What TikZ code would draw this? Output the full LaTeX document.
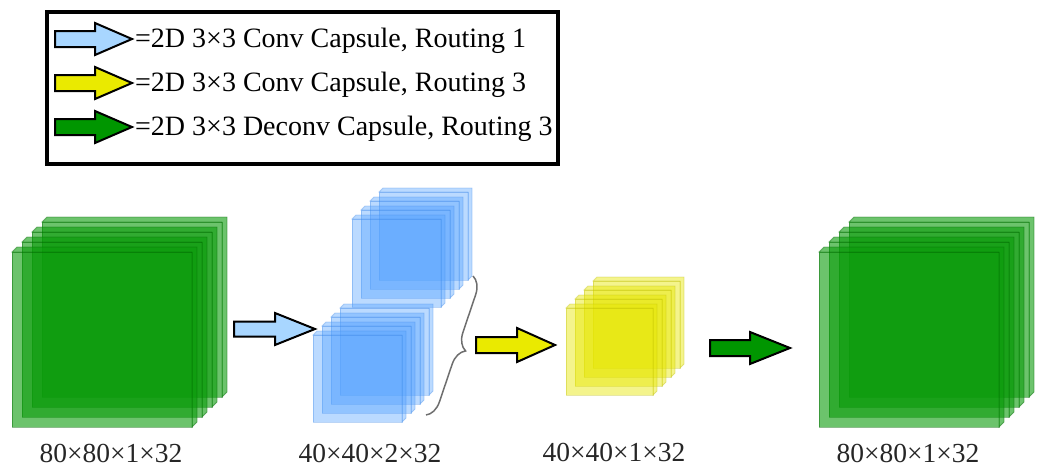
\documentclass[tikz,border=0pt]{standalone}
\usepackage{fontspec}
\setmainfont{Liberation Serif}
\usetikzlibrary{decorations.pathreplacing}
\definecolor{capgreen}{RGB}{10,155,10}
\definecolor{capgreenedge}{RGB}{0,105,0}
\definecolor{capblue}{RGB}{85,162,255}
\definecolor{capblueedge}{RGB}{60,135,230}
\definecolor{capyellow}{RGB}{230,230,0}
\definecolor{capyellowedge}{RGB}{185,185,0}
\definecolor{arrblue}{RGB}{168,214,255}
\definecolor{arryellow}{RGB}{234,234,0}
\definecolor{arrgreen}{RGB}{0,150,0}
\definecolor{bracegray}{RGB}{110,110,110}
\tikzset{
  greenslab/.style={fill=capgreen, fill opacity=0.6, draw=capgreenedge, draw opacity=0.45, line width=0.9pt},
  blueslab/.style={fill=capblue, fill opacity=0.4, draw=capblueedge, draw opacity=0.35, line width=0.8pt},
  yellowslab/.style={fill=capyellow, fill opacity=0.45, draw=capyellowedge, draw opacity=0.35, line width=0.8pt},
  blockarrow/.style={draw=black, line width=2pt, line join=miter},
  legendtext/.style={font=\fontsize{28}{32}\selectfont, anchor=base west, inner sep=0pt},
  dimtext/.style={font=\fontsize{27.5}{32}\selectfont, anchor=base, inner sep=0pt, text=black!85}
}
% stack: name, x, y (top of front face), w, h, step, depth, style
\newcommand\capstack[8]{%
  \coordinate (#1) at (#2,#3);
  \foreach \i in {3,2,1,0}{%
    \pgfmathsetmacro\sx{#2+#6*\i}%
    \pgfmathsetmacro\sy{#3-#6*\i}%
    \path[#8] (\sx,\sy) rectangle ++(#4,#5);
    \path[#8] (\sx,\sy) -- ++(#7,-#7) -- ++(#4,0) -- ++(0,#5) -- ++(-#7,#7) -- ++(0,-#5) -- cycle;
  }%
}
% block arrow: coordinate name, fill, shaft length, head length, shaft half, head half
\newcommand\barrow[6]{%
  \draw[blockarrow, fill=#2] (#1) ++(0,-#5) -- ++(#3,0) -- ++(0,#5-#6) -- ++(#4,#6) -- ++(-#4,#6) -- ++(0,#5-#6) -- ++(-#3,0) -- cycle;
}
\begin{document}
\begin{tikzpicture}[x=1pt,y=-1pt]
\useasboundingbox (0,0) rectangle (1044,467);
% legend
\node (legend) [draw, line width=3.5pt, minimum width=511pt, minimum height=152pt, inner sep=0pt, anchor=north west] at (45,10) {};
\coordinate (la1) at (55,39);
\coordinate (la2) at (55,83);
\coordinate (la3) at (55,127);
\barrow{la1}{arrblue}{40}{37}{8}{16}
\barrow{la2}{arryellow}{40}{37}{8}{16}
\barrow{la3}{arrgreen}{40}{37}{8}{16}
\node (lt1) [legendtext] at (135,47) {=2D 3×3 Conv Capsule, Routing 1};
\node (lt2) [legendtext] at (135,91) {=2D 3×3 Conv Capsule, Routing 3};
\node (lt3) [legendtext] at (135,135) {=2D 3×3 Deconv Capsule, Routing 3};
% stacks
\capstack{sA}{12}{252}{180}{175}{10}{5}{greenslab}
\capstack{sB1}{352}{219}{89}{88}{9}{4}{blueslab}
\capstack{sB2}{313}{335}{89}{87}{9}{4}{blueslab}
\capstack{sC}{566}{308}{87}{87}{9}{4}{yellowslab}
\capstack{sD}{819}{252}{180}{175}{10}{5}{greenslab}
% brace
\coordinate (brTop) at (473,276);
\coordinate (brBot) at (426,415);
\draw[bracegray, line width=1.5pt, decorate, decoration={brace, amplitude=17pt}] (brTop) -- (brBot);
% arrows
\coordinate (a1) at (234,329);
\coordinate (a2) at (476,345);
\coordinate (a3) at (710,348);
\barrow{a1}{arrblue}{41}{40}{7.5}{16}
\barrow{a2}{arryellow}{41}{38}{8}{17}
\barrow{a3}{arrgreen}{40}{40}{8}{16}
% labels
\node (dA) [dimtext] at (111,462) {80×80×1×32};
\node (dB) [dimtext] at (370,462) {40×40×2×32};
\node (dC) [dimtext] at (614,461) {40×40×1×32};
\node (dD) [dimtext] at (908,462) {80×80×1×32};
\end{tikzpicture}
\end{document}
